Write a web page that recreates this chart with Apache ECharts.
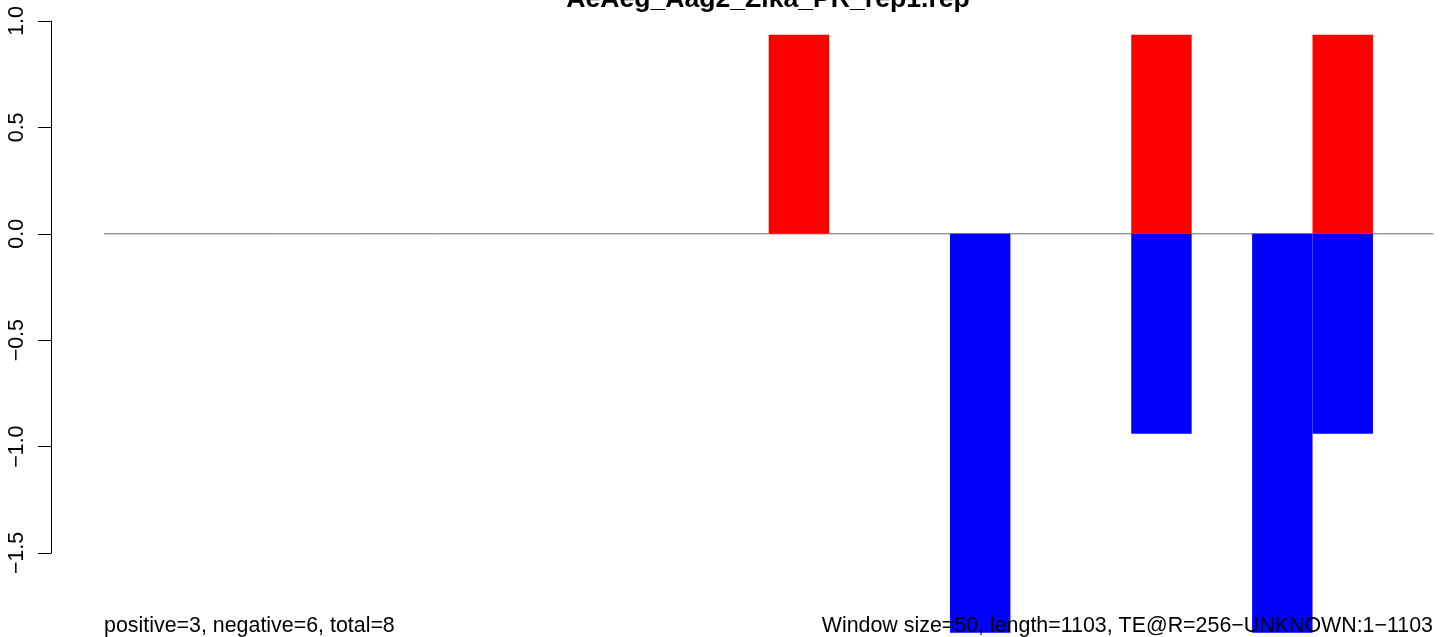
<!DOCTYPE html>
<html>
<head>
<meta charset="utf-8">
<script src="https://cdn.jsdelivr.net/npm/echarts@6/dist/echarts.min.js"></script>
<style>
html,body{margin:0;padding:0;background:#fff;}
#chart{width:1444px;height:637px;}
</style>
</head>
<body>
<div id="chart"></div>
<script>
// ---- data ----
const titleText = "AeAeg_Aag2_Zika_PR_rep1.rep";
const windowSize = 50;
const seqLength = 1103;
const binStarts = [550, 700, 850, 950, 1000];
const positiveValues = [0.935, 0, 0.935, 0, 0.935];
const negativeValues = [0, -1.875, -0.94, -1.875, -0.94];
const yTicks = [-1.5, -1.0, -0.5, 0.0, 0.5, 1.0];
const zeroLineRange = [0, 1100];
const leftNote = "positive=3, negative=6, total=8";
const rightNote = "Window size=50, length=1103, TE@R=256\u2212UNKNOWN:1\u22121103";

const FONT = "'Liberation Sans', Arial, Helvetica, sans-serif";

const posData = binStarts.map((s, i) => [s, s + windowSize, positiveValues[i]]).filter(d => d[2] !== 0);
const negData = binStarts.map((s, i) => [s, s + windowSize, negativeValues[i]]).filter(d => d[2] !== 0);

function rectRender(params, api) {
  const p0 = api.coord([api.value(0), 0]);
  const p1 = api.coord([api.value(1), api.value(2)]);
  const x = Math.min(p0[0], p1[0]);
  const y = Math.min(p0[1], p1[1]);
  return {
    type: 'rect',
    shape: { x: x, y: y, width: Math.abs(p1[0] - p0[0]), height: Math.abs(p1[1] - p0[1]) },
    style: api.style()
  };
}

const chart = echarts.init(document.getElementById('chart'), null, { renderer: 'canvas' });
chart.setOption({
  animation: false,
  backgroundColor: '#ffffff',
  textStyle: { fontFamily: FONT },
  grid: { left: 104, right: 7, top: 21, bottom: 84, containLabel: false },
  xAxis: {
    type: 'value', min: 0, max: seqLength, show: false
  },
  yAxis: {
    type: 'value', min: yTicks[0], max: yTicks[yTicks.length - 1], interval: 0.5,
    offset: 53,
    axisLine: { show: true, onZero: false, lineStyle: { color: '#000', width: 1 } },
    axisTick: { show: true, length: 13, lineStyle: { color: '#000', width: 1 } },
    splitLine: { show: false },
    axisLabel: {
      rotate: 90, margin: 23, color: '#000', fontSize: 21.4, fontFamily: FONT,
      formatter: v => v.toFixed(1).replace('-', '\u2212')
    }
  },
  series: [
    {
      type: 'line', data: zeroLineRange.map(x => [x, 0]), symbol: 'none',
      lineStyle: { color: '#6a6a6a', width: 1 }, z: 1, silent: true
    },
    {
      type: 'custom', renderItem: rectRender, data: negData, clip: false,
      itemStyle: { color: '#0000ff' }, encode: { x: [0, 1], y: 2 }, z: 2
    },
    {
      type: 'custom', renderItem: rectRender, data: posData, clip: false,
      itemStyle: { color: '#ff0000' }, encode: { x: [0, 1], y: 2 }, z: 3
    }
  ],
  graphic: [
    { type: 'text', z: 100, x: 768, y: 13, style: { text: titleText, font: "bold 26.6px " + FONT, fill: '#000', align: 'center', verticalAlign: 'bottom' } },
    { type: 'text', z: 100, x: 104, y: 637, style: { text: leftNote, font: "21.4px " + FONT, fill: '#000', align: 'left', verticalAlign: 'bottom' } },
    { type: 'text', z: 100, x: 1433, y: 637, style: { text: rightNote, font: "21.4px " + FONT, fill: '#000', align: 'right', verticalAlign: 'bottom' } }
  ]
});
</script>
</body>
</html>
